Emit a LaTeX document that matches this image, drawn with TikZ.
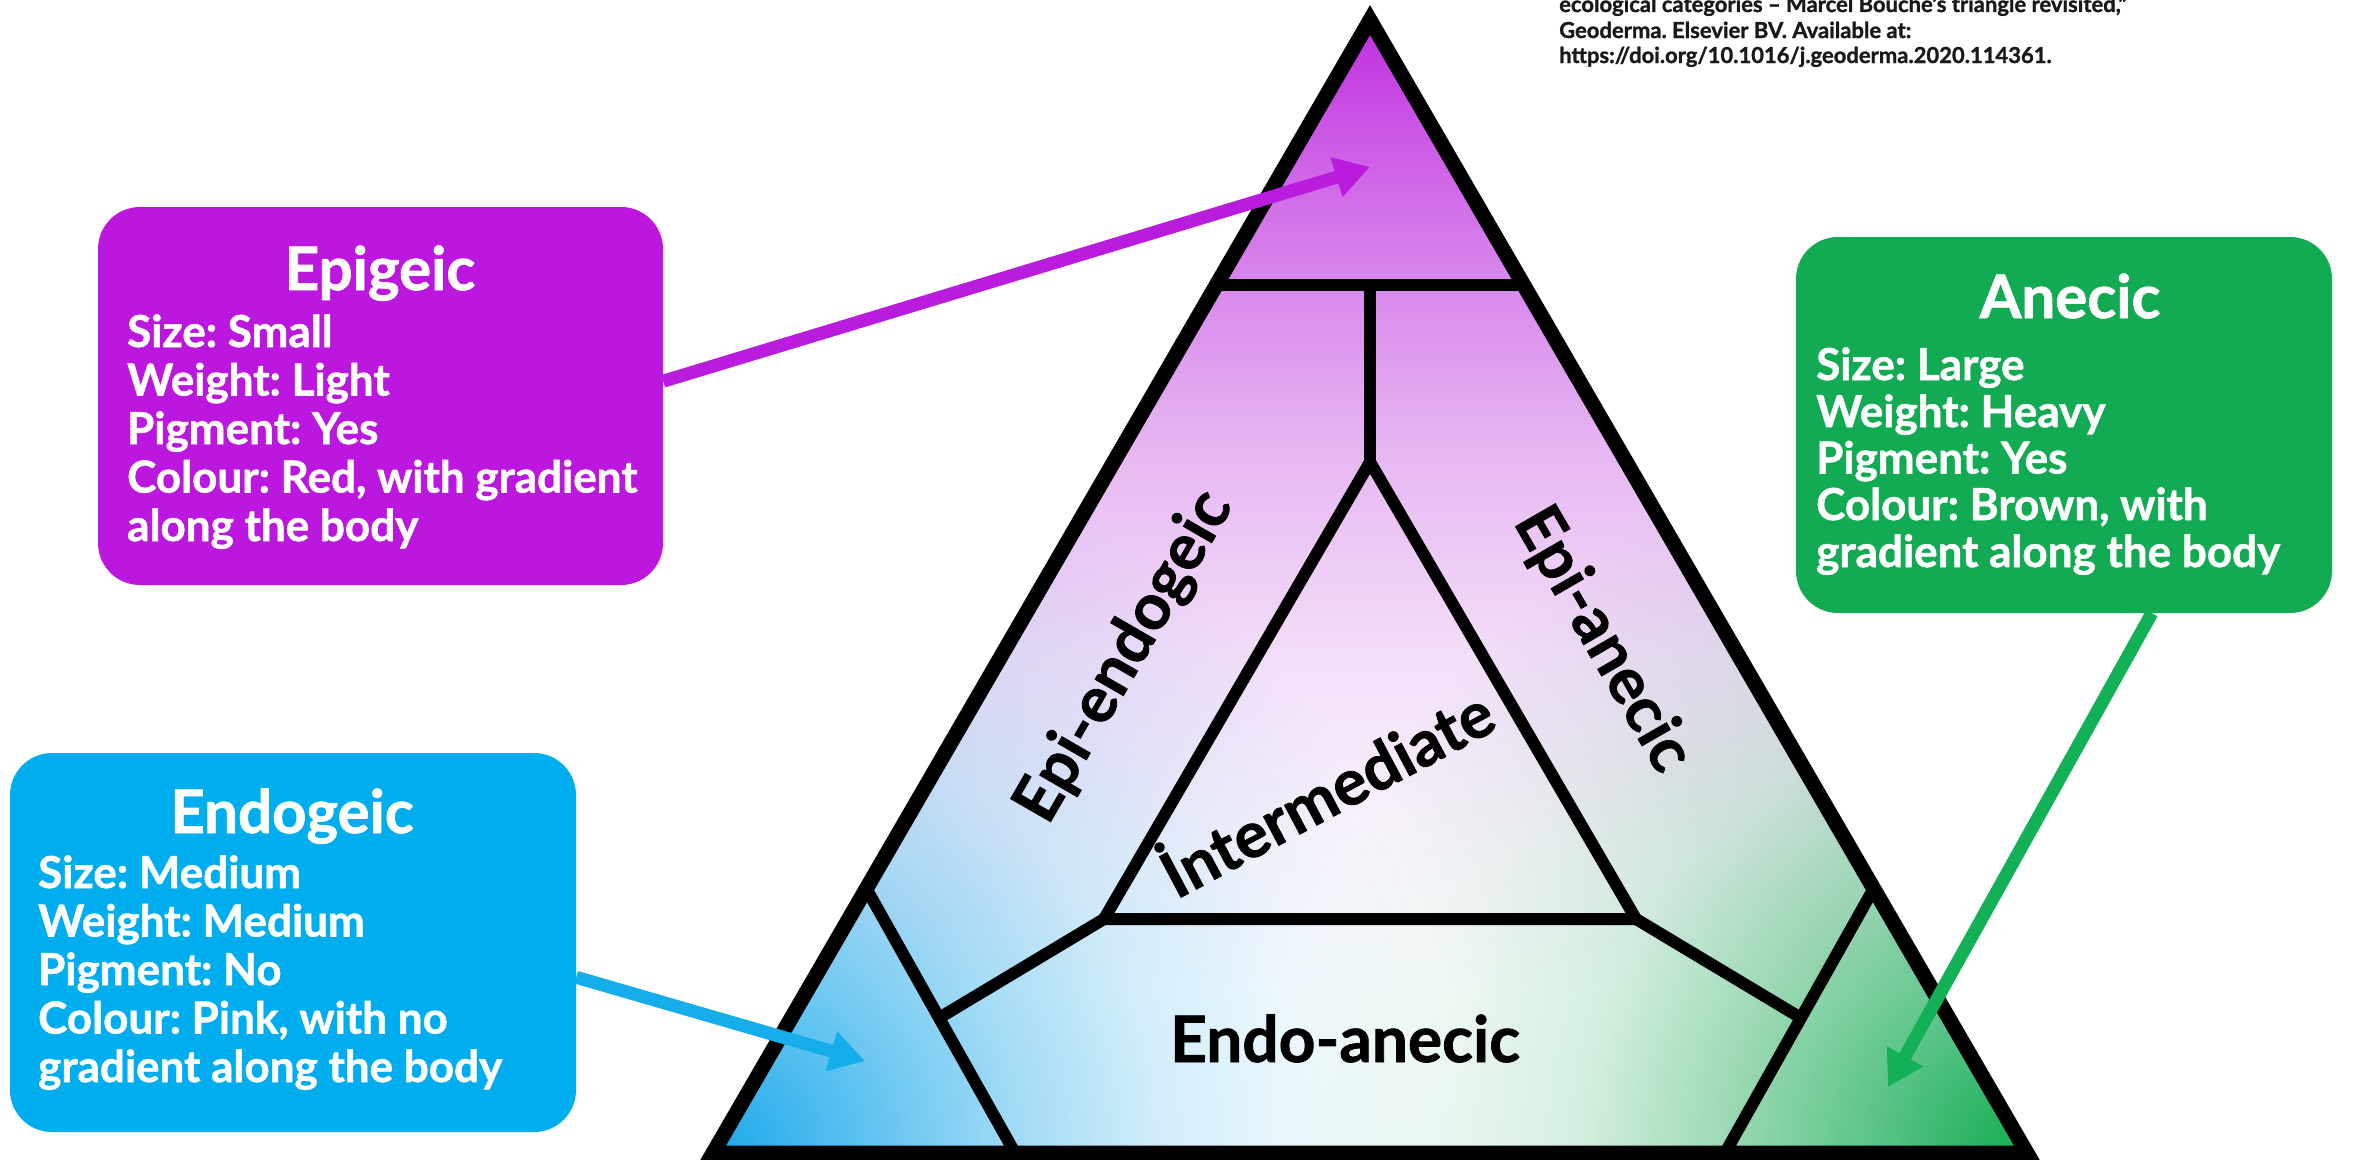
\documentclass[tikz,border=0pt]{standalone}
\usepackage{fontspec}
\setmainfont{Lato}[BoldFeatures={FakeBold=1.2}]
\usetikzlibrary{arrows.meta}
\definecolor{epiC}{HTML}{BC17DE}
\definecolor{endoC}{HTML}{00AEEF}
\definecolor{aneC}{HTML}{12AA52}
\definecolor{epiA}{HTML}{BA1CDD}
\definecolor{endoA}{HTML}{16ADEB}
\definecolor{aneA}{HTML}{12B057}
\definecolor{pf1}{HTML}{FAF5FC}
\definecolor{pf2}{HTML}{F2DEF8}
\definecolor{pf3}{HTML}{E7B8F2}
\definecolor{pf4}{HTML}{D98AEC}
\definecolor{pf5}{HTML}{CC58E6}
\definecolor{pf6}{HTML}{BF2EE0}
\definecolor{bf0}{HTML}{1CA8EB}
\definecolor{bf1}{HTML}{5CC2F0}
\definecolor{bf2}{HTML}{A0DAF5}
\definecolor{bf3}{HTML}{D2EEFA}
\definecolor{bf4}{HTML}{EEF8FC}
\definecolor{gf0}{HTML}{12AC50}
\definecolor{gf1}{HTML}{58C386}
\definecolor{gf2}{HTML}{9BD9B3}
\definecolor{gf3}{HTML}{D4EFDF}
\definecolor{gf4}{HTML}{EEF8F2}
\pgfdeclareverticalshading{purpfade}{100bp}{color(0bp)=(white); color(25bp)=(white); color(32bp)=(white); color(38.5bp)=(pf1); color(47bp)=(pf2); color(55.7bp)=(pf3); color(63bp)=(pf4); color(70bp)=(pf5); color(75bp)=(pf6); color(100bp)=(pf6)}
\pgfdeclareradialshading{bluefade}{\pgfpointorigin}{color(0bp)=(bf0); color(3.75bp)=(bf1); color(7.5bp)=(bf2); color(11.25bp)=(bf3); color(15bp)=(bf4); color(18.75bp)=(white); color(50bp)=(white)}
\pgfdeclareradialshading{greenfade}{\pgfpointorigin}{color(0bp)=(gf0); color(3.75bp)=(gf1); color(7.5bp)=(gf2); color(11.25bp)=(gf3); color(15bp)=(gf4); color(18.75bp)=(white); color(50bp)=(white)}
\tikzset{
  infobox/.style={rounded corners=42pt, inner sep=0pt, draw=none},
  boxtitle/.style={text=white, font=\frenchspacing\bfseries\fontsize{60}{72}\selectfont, anchor=base, inner sep=0pt},
  boxline/.style={text=white, font=\frenchspacing\bfseries\fontsize{44}{48}\selectfont, anchor=base west, inner sep=0pt},
  trilabel/.style={font=\bfseries\fontsize{64}{70}\selectfont, inner sep=0pt, text=black},
  outeredge/.style={line width=15pt, line join=miter},
  divider/.style={line width=12pt, line join=miter},
  pointer/.style={line width=13pt, -{Triangle[length=35pt,width=39pt]}},
  citeline/.style={font=\frenchspacing\bfseries\fontsize{22}{26}\selectfont, anchor=base west, inner sep=0pt, text=black!90}
}
\begin{document}
\begin{tikzpicture}[x=1pt,y=-1pt]
\useasboundingbox (0,0) rectangle (2379,1159);
\fill[white] (0,0) rectangle (2379,1159);
% key points of the triangle
\coordinate (A) at (1370,20);
\coordinate (BL) at (713,1153);
\coordinate (BR) at (2027,1153);
\coordinate (L1) at (1216,285);
\coordinate (R1) at (1524,285);
\coordinate (M1) at (1370,285);
\coordinate (IA) at (1370,462);
\coordinate (IL) at (1104,919);
\coordinate (IR) at (1636,919);
\coordinate (JL) at (939,1018);
\coordinate (JR) at (1801,1018);
\coordinate (CL1) at (866,888);
\coordinate (CL2) at (1015,1153);
\coordinate (CR1) at (1874,888);
\coordinate (CR2) at (1725,1153);
% gradient fill
\begin{scope}
  \clip (A) -- (BL) -- (BR) -- cycle;
  \fill[white] (A) -- (BL) -- (BR) -- cycle;
  \begin{scope}[blend mode=multiply]
    \shade[shading=purpfade] (600,20) rectangle (2140,1153);
    \shade[shading=bluefade] (BL) circle[radius=1000];
    \shade[shading=greenfade] (BR) circle[radius=1000];
  \end{scope}
\end{scope}
% dividers
\draw[divider] (L1) -- (R1);
\draw[divider] (M1) -- (IA);
\draw[divider] (IA) -- (IL) -- (IR) -- cycle;
\draw[divider] (IL) -- (JL);
\draw[divider] (IR) -- (JR);
\draw[divider] (CL1) -- (CL2);
\draw[divider] (CR1) -- (CR2);
\draw[outeredge] (A) -- (BL) -- (BR) -- cycle;
% triangle labels
\node[trilabel, rotate=60] (lepiendo) at (1125,657) {Epi-endogeic};
\node[trilabel, rotate=-60] (lepiane) at (1602,640) {Epi-anecic};
\node[trilabel, rotate=28, anchor=base] (linter) at (1338,814) {İntermediate};
\node[trilabel, anchor=base] (lendoane) at (1345,1062) {Endo-anecic};
% boxes
\node[infobox, fill=epiC, minimum width=565pt, minimum height=378pt] (epibox) at (380.5,396) {};
\node[infobox, fill=endoC, minimum width=566pt, minimum height=379pt] (endobox) at (293,942.5) {};
\node[infobox, fill=aneC, minimum width=536pt, minimum height=376pt] (anebox) at (2064,425) {};
\node[boxtitle] (epititle) at (380,290) {Epigeic};
\node[boxline] (e1) at (127,347) {Size: Small};
\node[boxline] (e2) at (127,395.5) {Weight: Light};
\node[boxline] (e3) at (127,444) {Pigment: Yes};
\node[boxline] (e4) at (127,492.5) {Colour: Red, with gradient};
\node[boxline] (e5) at (127,541) {along the body};
\node[boxtitle] (endotitle) at (292,833) {Endogeic};
\node[boxline] (n1) at (38,888) {Size: Medium};
\node[boxline] (n2) at (38,936.5) {Weight: Medium};
\node[boxline] (n3) at (38,985) {Pigment: No};
\node[boxline] (n4) at (38,1033.5) {Colour: Pink, with no};
\node[boxline] (n5) at (38,1082) {gradient along the body};
\node[boxtitle] (anetitle) at (2070,318) {Anecic};
\node[boxline] (a1) at (1816,380) {Size: Large};
\node[boxline] (a2) at (1816,427) {Weight: Heavy};
\node[boxline] (a3) at (1816,473.5) {Pigment: Yes};
\node[boxline] (a4) at (1816,520) {Colour: Brown, with};
\node[boxline] (a5) at (1816,567) {gradient along the body};
% citation
\node[citeline] (c1) at (1559,12) {ecological categories – Marcel Bouché’s triangle revisited,”};
\node[citeline] (c2) at (1559,38) {Geoderma. Elsevier BV. Available at:};
\node[citeline] (c3) at (1559,63) {https://doi.org/10.1016/j.geoderma.2020.114361.};
% arrows
\coordinate (tipE) at (1370,167);
\coordinate (tipN) at (865,1061);
\coordinate (tipA) at (1888,1087);
\draw[pointer, epiA] (epibox.3) -- (tipE);
\draw[pointer, endoA] (endobox.-7) -- (tipN);
\draw[pointer, aneA] (anebox.-65) -- (tipA);
\end{tikzpicture}
\end{document}
